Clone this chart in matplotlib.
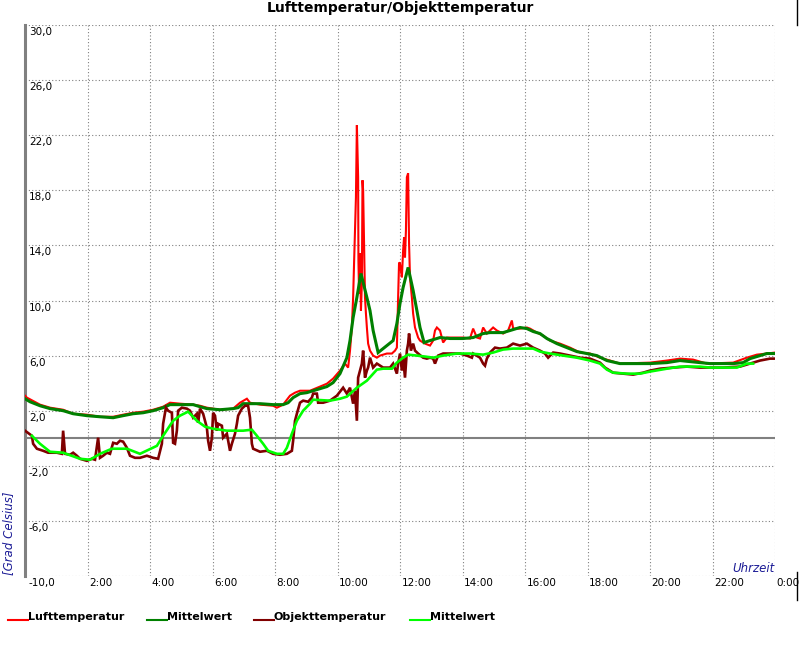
import matplotlib
matplotlib.use("Agg")
import matplotlib.pyplot as plt
from matplotlib.lines import Line2D

# Lufttemperatur (rot)
luft_h = [0, 0.06, 0.48, 0.8, 1.22, 1.54, 1.98, 2.4, 2.82, 3.14, 3.46, 3.78, 4.1, 4.42, 4.64,
          4.96, 5.38, 5.6, 5.82, 6.24, 6.66, 6.88, 7.1, 7.2, 7.52, 7.94, 8.06, 8.26, 8.48, 8.64,
          8.8, 9.12, 9.44, 9.66, 9.86, 10.08, 10.24, 10.34, 10.4, 10.46, 10.5, 10.53, 10.59,
          10.62, 10.66, 10.67, 10.69, 10.72, 10.75, 10.78, 10.8, 10.82, 10.85, 10.88, 10.91,
          10.94, 10.98, 11.04, 11.14, 11.26, 11.36, 11.58, 11.74, 11.84, 11.9, 11.94, 11.97,
          12.0, 12.06, 12.1, 12.13, 12.16, 12.19, 12.22, 12.26, 12.29, 12.32, 12.38, 12.42,
          12.48, 12.58, 12.64, 12.8, 12.96, 13.06, 13.12, 13.18, 13.28, 13.38, 13.5, 13.82,
          14.02, 14.24, 14.34, 14.46, 14.56, 14.66, 14.78, 14.98, 15.1, 15.3, 15.46, 15.58,
          15.62, 15.84, 16.06, 16.16, 16.38, 16.58, 16.8, 17.12, 17.44, 17.76, 18.08, 18.4,
          18.72, 19.04, 20.0, 20.54, 20.96, 21.38, 21.82, 22.66, 23.1, 23.42, 23.74, 24.0]
luft_t = [3.09, 2.95, 2.44, 2.22, 2.07, 1.78, 1.71, 1.56, 1.56, 1.71, 1.85, 1.93, 2.07, 2.29,
          2.58, 2.51, 2.44, 2.36, 2.22, 2.07, 2.15, 2.58, 2.87, 2.58, 2.44, 2.36, 2.22, 2.44,
          3.09, 3.31, 3.45, 3.45, 3.75, 3.96, 4.33, 4.91, 5.42, 5.13, 6.36, 8.04, 10.22, 12.69,
          17.49, 22.73, 18.95, 12.91, 10.51, 13.42, 9.27, 11.24, 18.73, 18.0, 14.15, 10.22,
          9.05, 8.04, 6.87, 6.36, 6.0, 5.85, 6.0, 6.15, 6.15, 6.36, 6.58, 10.22, 12.76, 12.69,
          11.67, 13.64, 14.58, 13.13, 15.09, 18.95, 19.24, 14.15, 11.67, 10.22, 9.05, 8.04,
          7.31, 7.09, 6.87, 6.73, 7.09, 7.82, 8.04, 7.82, 6.95, 7.31, 7.31, 7.31, 7.24, 7.96,
          7.31, 7.24, 8.04, 7.6, 8.04, 7.82, 7.6, 7.82, 8.55, 7.96, 7.96, 8.04, 7.96, 7.67,
          7.45, 7.09, 6.87, 6.58, 6.22, 6.15, 5.85, 5.64, 5.42, 5.49, 5.64, 5.78, 5.71, 5.42,
          5.49, 5.85, 6.07, 6.15, 6.22]

# Mittelwert Luft (dunkelgruen)
luft_mw_h = [0, 0.16, 0.48, 0.8, 1.22, 1.54, 1.98, 2.4, 2.82, 3.14, 3.46, 3.78, 4.1, 4.42,
             4.64, 4.96, 5.38, 5.6, 5.82, 6.24, 6.66, 6.82, 6.98, 7.2, 7.52, 7.94, 8.26, 8.42,
             8.58, 8.8, 9.02, 9.34, 9.66, 9.86, 10.08, 10.3, 10.4, 10.5, 10.62, 10.75, 10.94,
             11.04, 11.14, 11.3, 11.78, 11.9, 12.0, 12.1, 12.26, 12.42, 12.54, 12.64, 12.77,
             12.96, 13.28, 13.6, 14.02, 14.34, 14.66, 14.88, 15.3, 15.52, 15.84, 16.06, 16.26,
             16.48, 16.7, 17.02, 17.34, 17.66, 17.98, 18.3, 18.62, 19.04, 20.0, 20.54, 20.96,
             21.6, 21.92, 22.66, 22.98, 23.2, 23.42, 23.74, 24.0]
luft_mw_t = [2.87, 2.65, 2.36, 2.15, 2.0, 1.78, 1.64, 1.56, 1.49, 1.64, 1.78, 1.85, 2.0, 2.22,
             2.44, 2.44, 2.44, 2.29, 2.15, 2.07, 2.15, 2.22, 2.51, 2.51, 2.51, 2.44, 2.44,
             2.58, 2.95, 3.24, 3.31, 3.53, 3.75, 4.04, 4.69, 5.85, 7.09, 8.76, 10.22, 11.96,
             10.22, 9.27, 7.82, 6.22, 7.09, 8.33, 9.78, 10.95, 12.4, 10.73, 9.27, 8.04, 6.95,
             7.09, 7.31, 7.24, 7.24, 7.31, 7.6, 7.67, 7.67, 7.82, 8.04, 7.96, 7.75, 7.6, 7.24,
             6.87, 6.58, 6.29, 6.15, 6.0, 5.64, 5.42, 5.42, 5.49, 5.64, 5.49, 5.42, 5.42, 5.49,
             5.78, 5.93, 6.15, 6.15]

# Objekttemperatur (dunkelrot)
obj_h = [0, 0.22, 0.26, 0.38, 0.58, 0.74, 1.02, 1.18, 1.22, 1.28, 1.44, 1.54, 1.66, 1.76,
         1.98, 2.14, 2.24, 2.34, 2.4, 2.5, 2.62, 2.72, 2.82, 2.94, 3.04, 3.14, 3.26, 3.36,
         3.52, 3.68, 3.9, 4.1, 4.26, 4.38, 4.42, 4.51, 4.58, 4.7, 4.74, 4.8, 4.86, 4.9, 5.02,
         5.18, 5.28, 5.38, 5.5, 5.54, 5.6, 5.7, 5.82, 5.86, 5.92, 5.98, 6.02, 6.08, 6.14,
         6.18, 6.3, 6.34, 6.46, 6.56, 6.62, 6.72, 6.78, 6.82, 6.94, 7.04, 7.14, 7.2, 7.26,
         7.3, 7.52, 7.74, 7.94, 8.16, 8.38, 8.54, 8.58, 8.64, 8.7, 8.8, 8.9, 9.06, 9.18, 9.22,
         9.34, 9.38, 9.54, 9.76, 9.98, 10.18, 10.3, 10.4, 10.5, 10.56, 10.62, 10.66, 10.72,
         10.78, 10.82, 10.88, 10.94, 10.98, 11.04, 11.14, 11.26, 11.46, 11.68, 11.78, 11.9,
         11.94, 12.0, 12.06, 12.1, 12.16, 12.22, 12.26, 12.29, 12.35, 12.42, 12.48, 12.58,
         12.74, 12.86, 12.96, 13.06, 13.12, 13.22, 13.38, 13.6, 13.92, 14.14, 14.3, 14.34,
         14.56, 14.66, 14.72, 14.78, 14.88, 15.04, 15.2, 15.42, 15.62, 15.84, 16.06, 16.26,
         16.48, 16.64, 16.74, 16.9, 17.12, 17.44, 17.76, 18.08, 18.4, 18.56, 18.82, 19.14,
         19.46, 19.78, 20.0, 20.32, 20.74, 21.18, 21.6, 21.92, 22.34, 22.88, 23.2, 23.52,
         23.84, 24.0]
obj_t = [0.55, 0.18, -0.4, -0.76, -0.91, -1.05, -1.05, -1.13, 0.55, -1.13, -1.2, -1.05,
         -1.27, -1.49, -1.64, -1.49, -1.56, 0.04, -1.42, -1.27, -1.05, -1.13, -0.33, -0.4,
         -0.18, -0.25, -0.69, -1.27, -1.42, -1.42, -1.27, -1.42, -1.49, -0.4, 1.05, 2.22, 2.0,
         1.85, -0.33, -0.4, 0.55, 2.0, 2.22, 2.15, 2.0, 1.49, 1.78, 1.13, 2.15, 1.78, 0.76,
         -0.18, -0.91, 0.04, 1.85, 1.64, 0.55, 1.05, 0.91, 0.04, 0.33, -0.91, -0.4, 0.33,
         1.05, 1.64, 2.15, 2.36, 2.36, 1.49, -0.4, -0.76, -0.98, -0.91, -1.13, -1.2, -1.13,
         -0.91, -0.18, 1.27, 1.78, 2.58, 2.73, 2.65, 2.95, 3.24, 3.24, 2.58, 2.58, 2.73, 3.09,
         3.67, 3.24, 3.67, 2.51, 3.45, 1.27, 4.4, 4.91, 5.42, 6.36, 4.4, 4.91, 5.13, 5.85,
         5.13, 5.42, 5.13, 5.13, 5.42, 4.69, 5.42, 6.15, 4.91, 5.85, 4.4, 6.36, 6.87, 7.6,
         6.36, 6.87, 6.36, 6.15, 5.85, 5.78, 5.85, 5.78, 5.42, 6.0, 6.15, 6.15, 6.15, 6.0,
         5.85, 6.15, 5.85, 5.42, 5.27, 5.78, 6.22, 6.58, 6.51, 6.58, 6.87, 6.73, 6.87, 6.58,
         6.36, 6.15, 5.85, 6.22, 6.15, 6.0, 5.85, 5.78, 5.49, 5.13, 4.76, 4.69, 4.62, 4.76,
         4.91, 5.05, 5.13, 5.2, 5.13, 5.13, 5.13, 5.2, 5.42, 5.64, 5.78, 5.78]

# Mittelwert Objekt (hellgruen)
obj_mw_h = [0.22, 0.48, 0.8, 1.22, 1.76, 2.08, 2.4, 2.78, 3.26, 3.68, 4.22, 4.42, 4.74, 4.96,
            5.22, 5.5, 5.76, 6.02, 6.46, 6.98, 7.26, 7.42, 7.62, 7.78, 8.06, 8.26, 8.38, 8.54,
            8.7, 8.9, 9.12, 9.22, 9.76, 10.08, 10.3, 10.62, 10.94, 11.26, 11.46, 11.74, 11.9,
            12.1, 12.26, 12.54, 12.8, 13.06, 13.38, 13.82, 14.24, 14.66, 14.98, 15.3, 15.62,
            16.26, 16.48, 16.8, 17.22, 17.66, 18.08, 18.4, 18.62, 18.82, 19.26, 19.68, 20.0,
            20.54, 20.96, 21.6, 21.92, 22.78, 23.1, 23.3]
obj_mw_t = [0.18, -0.4, -0.98, -1.05, -1.49, -1.56, -1.13, -0.76, -0.76, -1.13, -0.55, 0.18,
            1.27, 1.64, 1.93, 1.27, 0.84, 0.69, 0.55, 0.55, 0.62, 0.18, -0.4, -0.91, -1.13,
            -1.13, -0.69, 0.33, 1.27, 2.0, 2.51, 2.8, 2.73, 2.87, 3.02, 3.67, 4.18, 4.98, 5.05,
            5.05, 5.49, 5.85, 6.07, 6.0, 5.93, 5.85, 6.0, 6.15, 6.15, 6.07, 6.22, 6.44, 6.51,
            6.51, 6.29, 6.15, 6.0, 5.85, 5.64, 5.42, 4.98, 4.76, 4.69, 4.69, 4.84, 5.05, 5.2,
            5.2, 5.13, 5.13, 5.42, 5.42]

y_ticks = [-10, -6, -2, 2, 6, 10, 14, 18, 22, 26, 30]
x_ticks = [2, 4, 6, 8, 10, 12, 14, 16, 18, 20, 22, 24]
x_labels = ["2:00", "4:00", "6:00", "8:00", "10:00", "12:00", "14:00", "16:00",
            "18:00", "20:00", "22:00", "0:00"]

series = [("Lufttemperatur", luft_h, luft_t, "#ff0000", 1.5),
          ("Mittelwert", luft_mw_h, luft_mw_t, "#008000", 2.2),
          ("Objekttemperatur", obj_h, obj_t, "#800000", 1.9),
          ("Mittelwert", obj_mw_h, obj_mw_t, "#00ff00", 1.9)]

fig = plt.figure(figsize=(8, 6.5), dpi=100)
ax = fig.add_axes([25 / 800, 1 - 576 / 650, 750 / 800, 551 / 650])
ax.set_xlim(0, 24)
ax.set_ylim(-10, 30)
for s in ax.spines.values():
    s.set_visible(False)
ax.set_xticks([])
ax.set_yticks([])

grid_kw = dict(color="#808080", lw=0.8, ls=(0, (1, 2)), zorder=1)
for y in y_ticks:
    ax.axhline(y, **grid_kw)
for x in x_ticks:
    ax.axvline(x, **grid_kw)
ax.axhline(0, color="#808080", lw=1.5, zorder=2)
ax.axvline(0, color="#808080", lw=2.2, zorder=2, clip_on=False)

for name, xs, ys, col, lw in series:
    ax.plot(xs, ys, color=col, lw=lw, zorder=3, solid_joinstyle="miter")

for y in y_ticks:
    ax.text(0.12, y - 0.15, ("%.1f" % y).replace(".", ","), fontsize=7.5,
            ha="left", va="top", zorder=5)
for x, lab in zip(x_ticks, x_labels):
    ax.text(x + 0.05, -10.15, lab, fontsize=7.5, ha="left", va="top", clip_on=False)

ax.text(24, -9.9, "Uhrzeit", fontsize=8.5, style="italic", color="#1c1c96",
        ha="right", va="bottom")
fig.text(0.002, 1 - 575 / 650, "[Grad Celsius]", fontsize=8.5, style="italic",
         color="#1c1c96", rotation=90, ha="left", va="bottom")

fig.text(0.5, 1 - 8 / 650, "Lufttemperatur/Objekttemperatur", fontsize=10,
         fontweight="bold", ha="center", va="center")

# Legende unten
leg_x = [8, 147, 254, 410]
for (name, xs, ys, col, lw), lx in zip(series, leg_x):
    fig.add_artist(Line2D([lx / 800, (lx + 20) / 800], [1 - 620 / 650] * 2,
                          color=col, lw=1.5))
    fig.text((lx + 20) / 800, 1 - 617 / 650, name, fontsize=8, fontweight="bold",
             ha="left", va="center")

# kleine Randstriche rechts
fig.add_artist(Line2D([797 / 800] * 2, [1.0, 1 - 25 / 650], color="black", lw=1))
fig.add_artist(Line2D([797 / 800] * 2, [1 - 572 / 650, 1 - 600 / 650], color="black", lw=1))

fig.savefig("out.png", dpi=100)
